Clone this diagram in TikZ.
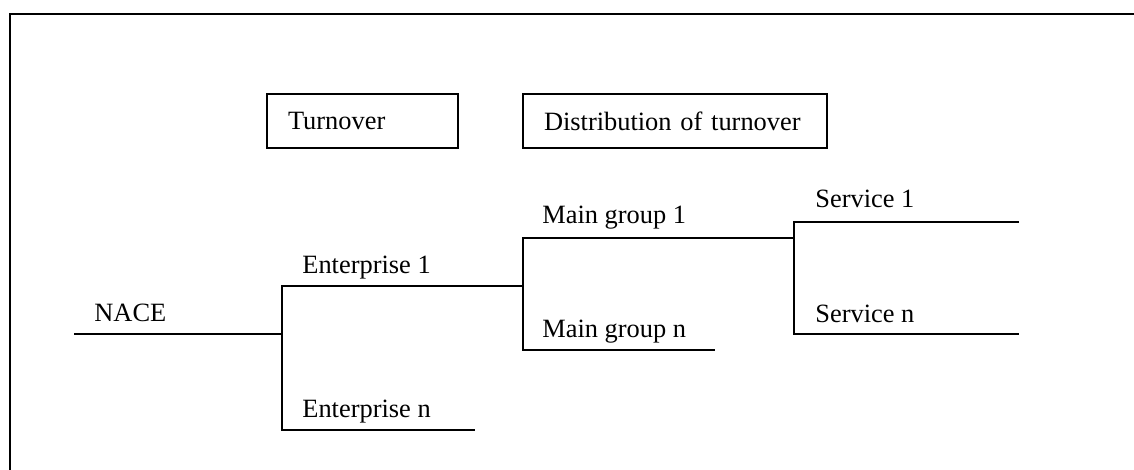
\documentclass[tikz,border=0pt]{standalone}
\usepackage{fontspec}
\setmainfont{Liberation Serif}
\usepackage{tikz}
\tikzstyle{frame}=[line width=1pt]
\tikzstyle{branch}=[-, line width=0.65pt]
\tikzstyle{box}=[rectangle, draw, line width=0.8pt, inner xsep=10.5pt, minimum height=27pt, align=left]
\tikzstyle{lab}=[anchor=base west, inner sep=0pt]

\begin{document}
\begin{tikzpicture}[x=0.5pt,y=-0.5pt,font=\fontsize{13.2pt}{15pt}\selectfont]
				\useasboundingbox (0,0) rectangle (1134,470);
				
				%The outer frame
				\draw[frame] (10,470) -- (10,14) -- (1134,14);
				
				%The headings
				\draw (362.5,121) node[box, text width=74.5pt] (turnover) {Turnover};
				\draw (675,121) node[box, text width=131pt] (distr) {Distribution of turnover};
				
				%The NACE level
				\coordinate (nace-in) at (74,334);
				\coordinate (nace) at (282,334);
				\draw (94,321) node[lab] (l-nace) {NACE};
				\draw[branch] (nace-in) -- (nace);
				
				%The enterprises
				\coordinate (ent1) at (523,286);
				\coordinate (entn) at (475,430);
				\draw (302,273) node[lab] (l-ent1) {Enterprise 1};
				\draw (302,417) node[lab] (l-entn) {Enterprise n};
				\draw[branch] (ent1) -| (nace) |- (entn);
				
				%The main groups
				\coordinate (grp1) at (794,238);
				\coordinate (grpn) at (715,350);
				\draw (542,224) node[lab] (l-grp1) {Main group 1};
				\draw (542,337) node[lab] (l-grpn) {Main group n};
				\draw[branch] (grp1) -| (ent1) |- (grpn);
				
				%The services
				\coordinate (srv1) at (1019,222);
				\coordinate (srvn) at (1019,334);
				\draw (815,208) node[lab] (l-srv1) {Service 1};
				\draw (815,322) node[lab] (l-srvn) {Service n};
				\draw[branch] (srv1) -| (grp1) |- (srvn);
			\end{tikzpicture}
\end{document}
